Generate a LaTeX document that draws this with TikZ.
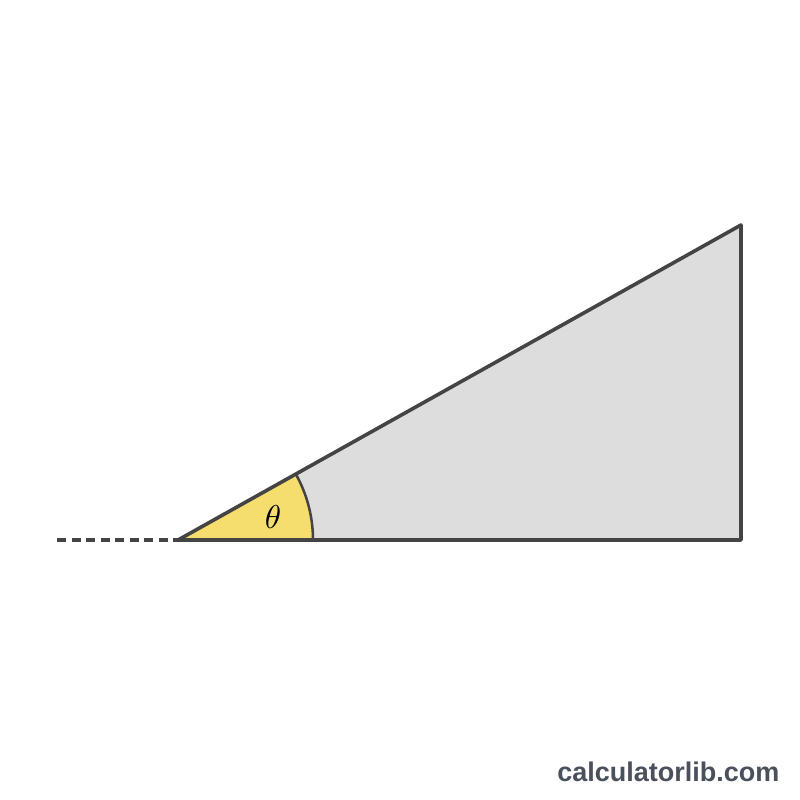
\documentclass[tikz,border=0pt]{standalone}
\usepackage{fontspec}
\newfontfamily\wmfont{Liberation Sans}
\definecolor{edge}{HTML}{444444}
\definecolor{tri}{HTML}{DDDDDD}
\definecolor{ang}{HTML}{F6DE6E}
\definecolor{wm}{HTML}{4A505C}
\begin{document}
\begin{tikzpicture}[x=1pt,y=-1pt,
  edgeline/.style={draw=edge,line width=3.6pt,line join=round},
  dashline/.style={draw=edge,line width=3.8pt,dash pattern=on 9pt off 5.5pt}]
\useasboundingbox[fill=white] (0,0) rectangle (800,800);
\coordinate (A) at (178,540);
\coordinate (B) at (741,540);
\coordinate (C) at (741,225);
\coordinate (L) at (57,540);
\fill[tri] (A) -- (B) -- (C) -- cycle;
\fill[ang] (A) -- ++(135,0) arc[start angle=0,end angle=-29.22,radius=135] -- cycle;
\draw[draw=edge,line width=2.5pt] (A) ++(135,0) arc[start angle=0,end angle=-29.22,radius=135];
\draw[edgeline] (A) -- (B) -- (C) -- cycle;
\draw[dashline] (L) -- (A);
\node[scale=3.3] (t) at (273,517) {$\theta$};
\node[font=\wmfont\bfseries\fontsize{27}{32}\selectfont,text=wm,anchor=east] (w) at (783,772) {calculatorlib.com};
\end{tikzpicture}
\end{document}
